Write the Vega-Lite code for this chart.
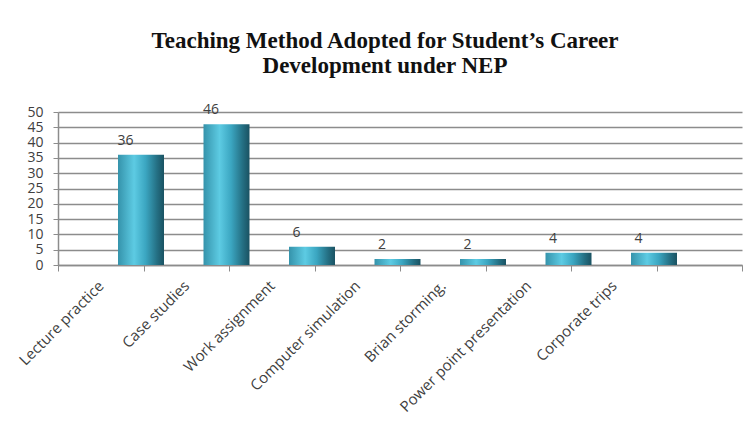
{
  "$schema": "https://vega.github.io/schema/vega-lite/v6.json",
  "width": 684,
  "height": 153,
  "autosize": {"type": "none"},
  "padding": {"left": 58, "top": 112, "right": 13, "bottom": 163},
  "background": "white",
  "title": {
    "text": ["Teaching Method Adopted for Student’s Career", "Development under NEP"],
    "font": "Liberation Serif",
    "fontSize": 23,
    "fontWeight": "bold",
    "color": "#111111",
    "lineHeight": 25,
    "anchor": "middle",
    "dx": -15,
    "offset": 25
  },
  "data": {
    "values": [
      {"method": "Lecture practice", "value": 36},
      {"method": "Case studies", "value": 46},
      {"method": "Work assignment", "value": 6},
      {"method": "Computer simulation", "value": 2},
      {"method": "Brian storming.", "value": 2},
      {"method": "Power point presentation", "value": 4},
      {"method": "Corporate trips", "value": 4}
    ]
  },
  "config": {
    "view": {"stroke": null},
    "axis": {
      "labelFont": "Open Sans",
      "labelColor": "#404040",
      "domainColor": "#8c8c8c",
      "tickColor": "#8c8c8c",
      "title": null
    }
  },
  "encoding": {
    "y": {
      "field": "value",
      "type": "quantitative",
      "scale": {"domain": [0, 50], "nice": false},
      "axis": {
        "values": [0, 5, 10, 15, 20, 25, 30, 35, 40, 45, 50],
        "labelOverlap": false,
        "grid": true,
        "gridColor": "#8c8c8c",
        "gridWidth": 1.5,
        "domainWidth": 1.5,
        "tickSize": 5,
        "labelFontSize": 14,
        "labelPadding": 10
      }
    }
  },
  "layer": [
    {
      "mark": {"type": "text", "baseline": "bottom", "dy": -7, "font": "Open Sans", "fontSize": 14, "color": "#404040"},
      "encoding": {
        "x": {
          "field": "method",
          "type": "nominal",
          "bandPosition": 0.79,
          "sort": null,
          "scale": {
            "domain": ["Lecture practice", "Case studies", "Work assignment", "Computer simulation", "Brian storming.", "Power point presentation", "Corporate trips", " "],
            "paddingInner": 0,
            "paddingOuter": 0
          },
          "axis": {
            "labelAngle": -45,
            "labelAlign": "right",
            "labelBaseline": "middle",
            "labelFontSize": 15,
            "labelPadding": 12,
            "tickBand": "extent",
            "tickSize": 6,
            "domainWidth": 1.5,
            "labelLimit": 300
          }
        },
        "text": {"field": "value", "type": "quantitative"}
      }
    },
    {
      "mark": {
        "type": "bar",
        "color": {
          "x1": 0, "y1": 0, "x2": 1, "y2": 0,
          "gradient": "linear",
          "stops": [
            {"offset": 0, "color": "#3593ab"},
            {"offset": 0.35, "color": "#5dcbe3"},
            {"offset": 0.6, "color": "#3ba6c1"},
            {"offset": 0.85, "color": "#246f83"},
            {"offset": 1, "color": "#1a5262"}
          ]
        }
      },
      "encoding": {
        "x": {
          "field": "method",
          "type": "nominal",
          "sort": null,
          "scale": {"paddingInner": 0.462, "paddingOuter": 0.731, "align": 0.48},
          "axis": null
        }
      }
    }
  ],
  "resolve": {"scale": {"x": "independent"}}
}
